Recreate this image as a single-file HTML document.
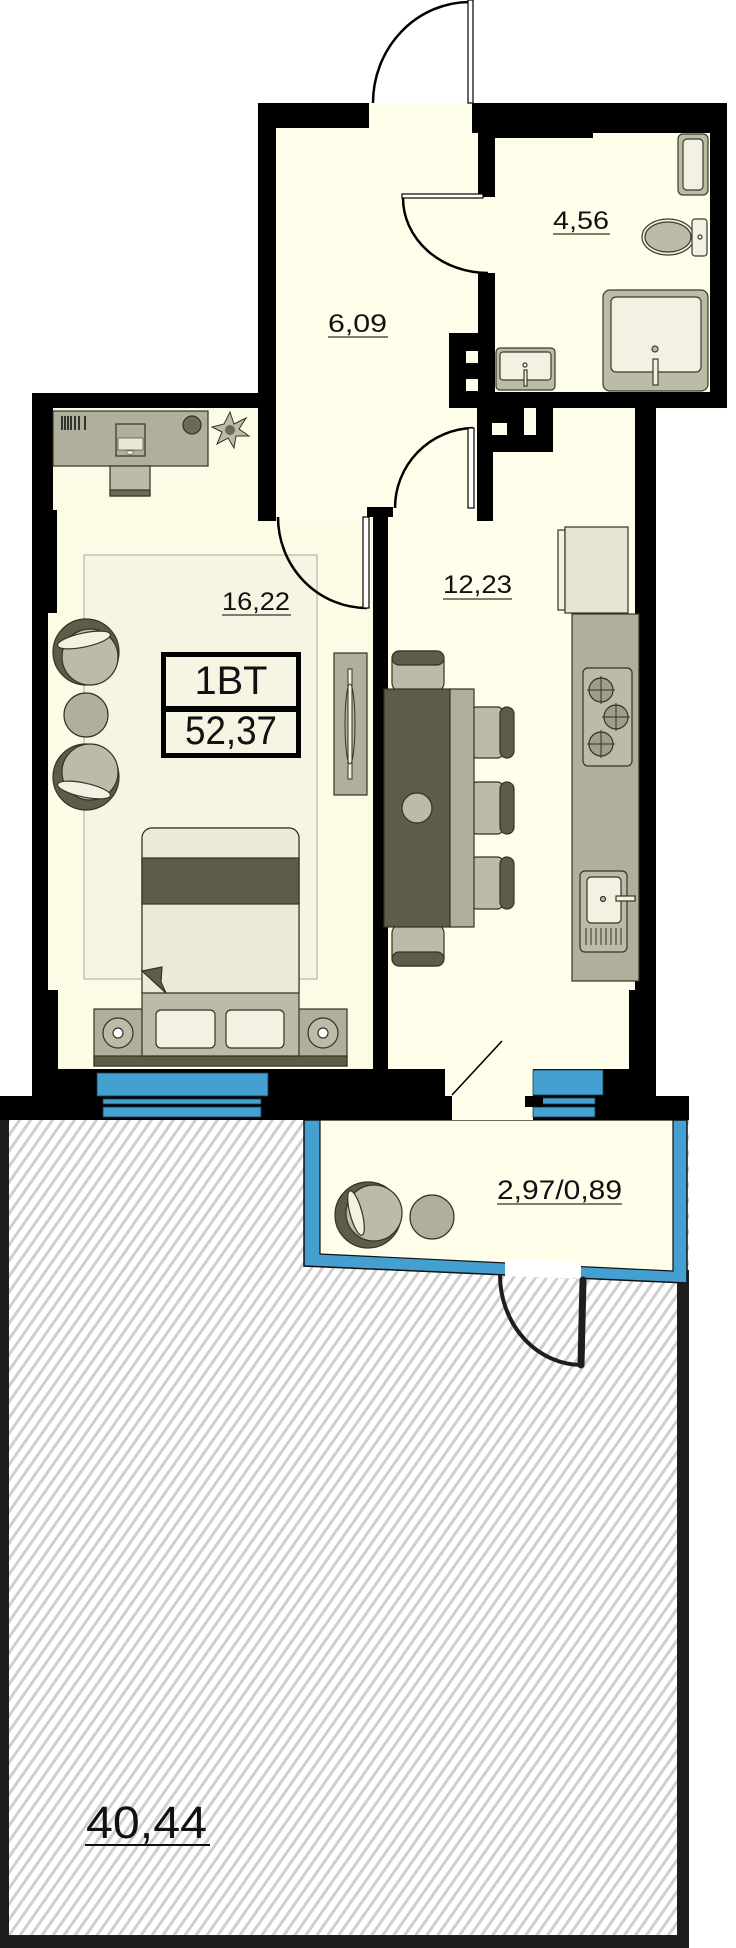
<!DOCTYPE html>
<html><head><meta charset="utf-8"><style>
html,body{margin:0;padding:0;background:#fff;}
svg{display:block;}
text{font-family:"Liberation Sans",sans-serif;fill:#111;}
</style></head><body>
<svg width="736" height="1948" viewBox="0 0 736 1948" xmlns="http://www.w3.org/2000/svg">
<defs>
<pattern id="h" width="9" height="9" patternUnits="userSpaceOnUse" patternTransform="rotate(35)">
<rect width="9" height="9" fill="#fff"/>
<rect x="0" y="0" width="3" height="9" fill="#cfcfcf"/>
</pattern>
</defs>

<rect x="0" y="1110" width="689" height="838" fill="url(#h)"/>
<rect x="0" y="1120" width="9" height="828" fill="#1e1e1e"/>
<rect x="677" y="1270" width="12" height="678" fill="#1e1e1e"/>
<rect x="0" y="1935" width="689" height="13" fill="#1e1e1e"/>

<rect x="258" y="103" width="469" height="307" fill="#fffeea"/>
<rect x="32" y="393" width="624" height="703" fill="#fffeea"/>
<polygon points="48,408 258,408 258,521 373,521 373,1069 48,1069" fill="#fbfbe6"/>
<rect x="84" y="555" width="233" height="424" fill="#f6f5e3" stroke="#aaa99a" stroke-width="1"/>

<polygon points="304,1120 687,1120 687,1283 304,1266" fill="#44a0d0" stroke="#111" stroke-width="1.5"/>
<polygon points="320,1120 673,1120 673,1271 320,1254" fill="#fffeea" stroke="#111" stroke-width="1.2"/>
<polygon points="505,1259 581,1262 581,1279 505,1276" fill="#fff"/>

<g fill="#000">
<rect x="258" y="103" width="111" height="25"/>
<rect x="258" y="103" width="18" height="418"/>
<rect x="472" y="103" width="255" height="30"/>
<rect x="495" y="133" width="98" height="5"/>
<rect x="710" y="103" width="17" height="305"/>
<rect x="478" y="128" width="17" height="69"/>
<rect x="478" y="273" width="17" height="135"/>
<rect x="449" y="333" width="46" height="75"/>
<rect x="449" y="392" width="278" height="16"/>
<rect x="477" y="408" width="76" height="44"/>
<rect x="477" y="408" width="16" height="113"/>
<rect x="635" y="408" width="21" height="582"/>
<rect x="629" y="990" width="27" height="105"/>
<rect x="32" y="393" width="243" height="15"/>
<rect x="32" y="393" width="21" height="117"/>
<rect x="32" y="510" width="25" height="103"/>
<rect x="32" y="613" width="16" height="377"/>
<rect x="32" y="990" width="26" height="106"/>
<rect x="373" y="507" width="15" height="562"/>
<rect x="367" y="507" width="26" height="10"/>
<rect x="32" y="1069" width="413" height="27"/>
<rect x="533" y="1069" width="123" height="27"/>
<rect x="0" y="1096" width="452" height="24"/>
<rect x="533" y="1096" width="156" height="24"/>
</g>
<g fill="#fffeea">
<rect x="466" y="351" width="12" height="12"/>
<rect x="466" y="379" width="12" height="12"/>
<rect x="492" y="423" width="15" height="12"/>
<rect x="524" y="408" width="12" height="27"/>
<rect x="445" y="1070" width="88" height="25"/>
<rect x="452" y="1095" width="81" height="25"/>
</g>

<g fill="#44a0d0" stroke="#1a3a4a" stroke-width="0.8">
<rect x="97" y="1073" width="171" height="23"/>
<rect x="103" y="1099" width="158" height="5"/>
<rect x="103" y="1107" width="158" height="10"/>
<rect x="533" y="1070" width="70" height="25"/>
<rect x="533" y="1098" width="62" height="6"/>
<rect x="533" y="1107" width="62" height="10"/>
</g>
<rect x="525" y="1096" width="18" height="11" fill="#000"/>
<line x1="502" y1="1041" x2="452" y2="1095" stroke="#000" stroke-width="1.6"/>

<g fill="none" stroke="#000" stroke-width="2.5">
<path d="M373,103 A97,101 0 0 1 470,2"/>
<path d="M403,198 A85,75 0 0 0 488,273"/>
<path d="M278,517 A89,91 0 0 0 367,608"/>
<path d="M473,428 A80,80 0 0 0 395,508"/>
</g>
<g fill="#fff" stroke="#000" stroke-width="1.2">
<rect x="468" y="0" width="5" height="103"/>
<rect x="402" y="194" width="81" height="4"/>
<rect x="363" y="517" width="6" height="91"/>
<rect x="468" y="428" width="6" height="80"/>
</g>
<path d="M500,1275 A82,90 0 0 0 582,1365" fill="none" stroke="#1e1e1e" stroke-width="4"/>
<line x1="583" y1="1280" x2="581" y2="1365" stroke="#1e1e1e" stroke-width="7" stroke-linecap="round"/>

<g stroke="#3a3a2a" stroke-width="1.2">
<rect x="678" y="134" width="30" height="61" rx="5" fill="#bcbba8"/>
<rect x="683" y="139" width="20" height="51" rx="4" fill="#f3f2e2"/>
<ellipse cx="668" cy="237" rx="26" ry="18" fill="#f3f2e2"/>
<ellipse cx="668" cy="237" rx="23" ry="15" fill="#bcbba8"/>
<rect x="692" y="219" width="15" height="37" rx="3" fill="#f3f2e2"/>
<circle cx="700" cy="237" r="2" fill="#fff"/>
<rect x="603" y="290" width="105" height="101" rx="7" fill="#bcbba8"/>
<rect x="611" y="297" width="90" height="75" rx="5" fill="#f3f2e2"/>
<circle cx="655" cy="349" r="3" fill="#bcbba8"/>
<rect x="653" y="359" width="5" height="26" fill="#f3f2e2"/>
<rect x="496" y="348" width="59" height="42" rx="4" fill="#bcbba8"/>
<rect x="500" y="352" width="51" height="28" rx="3" fill="#f3f2e2"/>
<circle cx="525" cy="365" r="2" fill="#fff"/>
<rect x="524" y="370" width="3" height="16" fill="#f3f2e2"/>
</g>

<g stroke="#333322" stroke-width="1.2">
<rect x="53" y="411" width="155" height="55" fill="#b0af9c"/>
<rect x="110" y="466" width="40" height="30" fill="#bcbba8"/>
<rect x="110" y="490" width="40" height="6" fill="#6a6a55"/>
<rect x="116" y="424" width="29" height="32" fill="#b0af9c"/>
<rect x="118" y="438" width="25" height="12" fill="#e8e7d5" stroke-width="0.6"/>
<rect x="127" y="451" width="6" height="3" fill="#fff" stroke-width="0.5"/>
<circle cx="192" cy="425" r="9" fill="#6a6a55"/>
</g>
<g fill="#333" >
<rect x="61" y="416" width="2" height="14"/><rect x="64" y="416" width="2" height="14"/><rect x="67" y="416" width="2" height="14"/><rect x="70" y="416" width="2" height="14"/><rect x="74" y="416" width="2" height="14"/><rect x="78" y="416" width="2" height="14"/><rect x="84" y="416" width="2" height="14"/>
</g>
<polygon points="230,412 234,424 246,418 239,429 249,436 236,436 234,448 228,438 217,444 222,432 212,427 224,424" fill="#bcbba8" stroke="#333322" stroke-width="1"/>
<circle cx="230" cy="430" r="5" fill="#6a6a55"/>

<g stroke="#333322" stroke-width="1.2">
<circle cx="86" cy="652" r="33" fill="#5c5c48"/>
<circle cx="90" cy="657" r="28" fill="#bcbba8"/>
<ellipse cx="84" cy="640" rx="27" ry="7" transform="rotate(-12 84 640)" fill="#f3f2e2"/>
<circle cx="86" cy="715" r="22" fill="#b0af9c"/>
<circle cx="86" cy="777" r="33" fill="#5c5c48"/>
<circle cx="90" cy="772" r="28" fill="#bcbba8"/>
<ellipse cx="84" cy="790" rx="27" ry="7" transform="rotate(12 84 790)" fill="#f3f2e2"/>
<circle cx="368" cy="1215" r="33" fill="#5c5c48"/>
<circle cx="374" cy="1213" r="28" fill="#bcbba8"/>
<ellipse cx="356" cy="1213" rx="6" ry="23" transform="rotate(-15 356 1213)" fill="#f3f2e2"/>
<circle cx="432" cy="1217" r="22" fill="#b0af9c"/>
</g>

<rect x="334" y="653" width="33" height="142" fill="#b0af9c" stroke="#333322" stroke-width="1.2"/>
<rect x="348" y="669" width="4" height="110" fill="#f3f2e2" stroke="#333322" stroke-width="1"/>
<ellipse cx="350" cy="724" rx="5" ry="40" fill="none" stroke="#333322" stroke-width="1"/>

<g stroke="#333322" stroke-width="1.2">
<rect x="94" y="1009" width="253" height="57" fill="#b0af9c"/>
<rect x="94" y="1056" width="253" height="10" fill="#5c5c48"/>
<path d="M142,1056 V838 a10,10 0 0 1 10,-10 H289 a10,10 0 0 1 10,10 V1056 Z" fill="#bcbba8"/>
<path d="M142,993 V838 a10,10 0 0 1 10,-10 H289 a10,10 0 0 1 10,10 V993 H166 Z" fill="#ebead8"/>
<rect x="142" y="858" width="157" height="46" fill="#5c5c48"/>
<polygon points="142,971 162,967 161,982 166,993" fill="#5c5c48"/>
<rect x="156" y="1010" width="59" height="38" rx="5" fill="#f3f2e2"/>
<rect x="226" y="1010" width="58" height="38" rx="5" fill="#f3f2e2"/>
<circle cx="118" cy="1033" r="15" fill="#bcbba8"/>
<circle cx="118" cy="1033" r="5" fill="#fff"/>
<circle cx="323" cy="1033" r="15" fill="#bcbba8"/>
<circle cx="323" cy="1033" r="5" fill="#fff"/>
</g>

<g stroke="#333322" stroke-width="1.2">
<rect x="558" y="530" width="7" height="80" fill="#f3f2e2"/>
<rect x="565" y="527" width="63" height="86" fill="#e6e5d2"/>
<rect x="572" y="614" width="67" height="367" fill="#b0af9c"/>
<rect x="583" y="668" width="49" height="98" rx="5" fill="#bcbba8"/>
<circle cx="601" cy="690" r="12" fill="#9e9d8a"/>
<circle cx="616" cy="717" r="12" fill="#9e9d8a"/>
<circle cx="601" cy="744" r="12" fill="#9e9d8a"/>
<rect x="580" y="871" width="47" height="81" rx="5" fill="#bcbba8"/>
<rect x="587" y="877" width="34" height="46" rx="4" fill="#f3f2e2"/>
<circle cx="603" cy="899" r="2.5" fill="#bcbba8"/>
<rect x="616" y="896" width="19" height="5" fill="#f3f2e2"/>
<rect x="392" y="651" width="52" height="40" rx="8" fill="#bcbba8"/>
<rect x="392" y="651" width="52" height="14" rx="7" fill="#5c5c48"/>
<rect x="392" y="925" width="52" height="41" rx="8" fill="#bcbba8"/>
<rect x="392" y="952" width="52" height="14" rx="7" fill="#5c5c48"/>
<rect x="470" y="707" width="34" height="51" rx="7" fill="#bcbba8"/>
<rect x="500" y="707" width="14" height="51" rx="7" fill="#5c5c48"/>
<rect x="470" y="782" width="34" height="52" rx="7" fill="#bcbba8"/>
<rect x="500" y="782" width="14" height="52" rx="7" fill="#5c5c48"/>
<rect x="470" y="857" width="34" height="52" rx="7" fill="#bcbba8"/>
<rect x="500" y="857" width="14" height="52" rx="7" fill="#5c5c48"/>
<rect x="384" y="689" width="66" height="238" fill="#5c5c48"/>
<rect x="450" y="689" width="24" height="238" fill="#b0af9c"/>
<circle cx="417" cy="808" r="15" fill="#bcbba8"/>
</g>
<g stroke="#333322" stroke-width="1">
<line x1="601" y1="676" x2="601" y2="704"/><line x1="587" y1="690" x2="615" y2="690"/>
<line x1="616" y1="703" x2="616" y2="731"/><line x1="602" y1="717" x2="630" y2="717"/>
<line x1="601" y1="730" x2="601" y2="758"/><line x1="587" y1="744" x2="615" y2="744"/>
<line x1="586" y1="928" x2="586" y2="945"/><line x1="591" y1="928" x2="591" y2="945"/><line x1="596" y1="928" x2="596" y2="945"/><line x1="601" y1="928" x2="601" y2="945"/><line x1="606" y1="928" x2="606" y2="945"/><line x1="611" y1="928" x2="611" y2="945"/><line x1="616" y1="928" x2="616" y2="945"/><line x1="621" y1="928" x2="621" y2="945"/>
</g>

<rect x="163.5" y="654.5" width="135" height="101" fill="#f6f5e3" stroke="#000" stroke-width="5"/>
<rect x="163" y="706" width="136" height="6" fill="#000"/>
<text x="231" y="694" font-size="40" text-anchor="middle" textLength="73" lengthAdjust="spacingAndGlyphs">1BT</text>
<text x="231" y="744" font-size="40" text-anchor="middle" textLength="92" lengthAdjust="spacingAndGlyphs">52,37</text>

<g font-size="25">
<text x="553" y="229" textLength="56" lengthAdjust="spacingAndGlyphs">4,56</text>
<text x="328" y="332" textLength="59" lengthAdjust="spacingAndGlyphs">6,09</text>
<text x="222" y="610" textLength="68" lengthAdjust="spacingAndGlyphs">16,22</text>
<text x="443" y="593" textLength="69" lengthAdjust="spacingAndGlyphs">12,23</text>
</g>
<text x="497" y="1199" font-size="27" textLength="125" lengthAdjust="spacingAndGlyphs">2,97/0,89</text>
<text x="86" y="1838" font-size="45" textLength="121" lengthAdjust="spacingAndGlyphs">40,44</text>
<g stroke="#555544" stroke-width="1.6">
<line x1="553" y1="234" x2="610" y2="234"/>
<line x1="328" y1="337" x2="388" y2="337"/>
<line x1="222" y1="615" x2="291" y2="615"/>
<line x1="443" y1="599" x2="512" y2="599"/>
<line x1="497" y1="1204" x2="622" y2="1204"/>
</g>
<line x1="85" y1="1845" x2="210" y2="1845" stroke="#111" stroke-width="2"/>
</svg>
</body></html>
